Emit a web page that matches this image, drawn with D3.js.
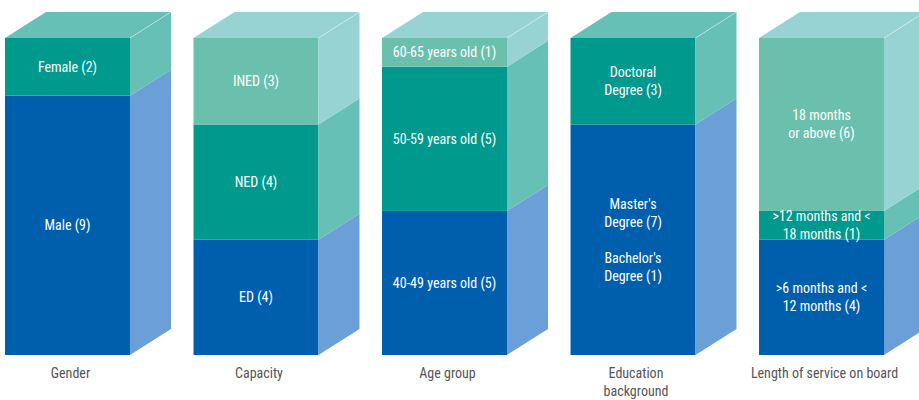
<!DOCTYPE html>
<html>
<head>
<meta charset="utf-8">
<script src="https://cdn.jsdelivr.net/npm/d3@7"></script>
<style>
  html, body { margin: 0; padding: 0; background: #ffffff; }
  svg { display: block; }
  text { font-family: "Liberation Sans Narrow", "Roboto Condensed", "Liberation Sans", sans-serif; }
</style>
</head>
<body>
<svg id="chart" width="919" height="400"></svg>
<script>
// Board composition: one stacked 3D column per dimension, each totalling 11 directors.
const categories = ["Gender", "Capacity", "Age group", "Education background", "Length of service on board"];
const categoryLines = [["Gender"], ["Capacity"], ["Age group"], ["Education", "background"], ["Length of service on board"]];

// Segment counts per column, bottom to top.
const genderCounts    = [9, 2];
const capacityCounts  = [4, 4, 3];
const ageCounts       = [5, 5, 1];
const educationCounts = [7 + 1, 3];          // Master's + Bachelor's, Doctoral
const serviceCounts   = [4, 1, 6];

// Segment labels (lines), bottom to top.
const genderLabels    = [["Male (9)"], ["Female (2)"]];
const capacityLabels  = [["ED (4)"], ["NED (4)"], ["INED (3)"]];
const ageLabels       = [["40-49 years old (5)"], ["50-59 years old (5)"], ["60-65 years old (1)"]];
const educationLabels = [["Master's", "Degree (7)", "", "Bachelor's", "Degree (1)"], ["Doctoral", "Degree (3)"]];
const serviceLabels   = [[">6 months and <", "12 months (4)"], [">12 months and <", "18 months (1)"], ["18 months", "or above (6)"]];

const allCounts = [genderCounts, capacityCounts, ageCounts, educationCounts, serviceCounts];
const allLabels = [genderLabels, capacityLabels, ageLabels, educationLabels, serviceLabels];

// Shading by stack level: front face, side face
const frontColors = ["#005fad", "#00998d", "#6bc0ad"];
const sideColors  = ["#6a9fd8", "#66c0b5", "#98d3d3"];

const svg = d3.select("#chart");
const depthX = 41, depthY = 26;

const x = d3.scaleBand().domain(categories).range([5, 884]).paddingInner(0.337).paddingOuter(0);
const total = d3.max(allCounts, c => d3.sum(c));
const y = d3.scaleLinear().domain([0, total]).range([355, 38]);

const lineH = 18;

categories.forEach((cat, ci) => {
  const counts = allCounts[ci];
  const labels = allLabels[ci];
  const x0 = x(cat), w = x.bandwidth();
  const g = svg.append("g");

  // cumulative stacking
  const segs = [];
  let acc = 0;
  counts.forEach((v, i) => { segs.push({ i, lo: acc, hi: acc + v, labels: labels[i] }); acc += v; });

  segs.forEach(s => {
    const yTop = y(s.hi), yBot = y(s.lo);
    // front face
    g.append("rect")
      .attr("x", x0).attr("y", yTop)
      .attr("width", w).attr("height", yBot - yTop)
      .attr("fill", frontColors[s.i]);
    // side face
    g.append("polygon")
      .attr("points", [
        [x0 + w, yTop], [x0 + w + depthX, yTop - depthY],
        [x0 + w + depthX, yBot - depthY], [x0 + w, yBot]
      ].map(p => p.join(",")).join(" "))
      .attr("fill", sideColors[s.i]);
  });

  // top face takes the side shade of the uppermost segment
  const topSeg = segs[segs.length - 1];
  const yT = y(topSeg.hi);
  g.append("polygon")
    .attr("points", [
      [x0, yT], [x0 + depthX, yT - depthY],
      [x0 + w + depthX, yT - depthY], [x0 + w, yT]
    ].map(p => p.join(",")).join(" "))
    .attr("fill", sideColors[topSeg.i]);
  // faint highlight along the top-right edge
  g.append("line")
    .attr("x1", x0 + w).attr("y1", yT)
    .attr("x2", x0 + w + depthX).attr("y2", yT - depthY)
    .attr("stroke", "#ffffff").attr("stroke-opacity", 0.5).attr("stroke-width", 0.8);

  // segment labels
  segs.forEach(s => {
    const cy = (y(s.hi) + y(s.lo)) / 2;
    const n = s.labels.length;
    const t = g.append("text")
      .attr("x", x0 + w / 2)
      .attr("text-anchor", "middle")
      .attr("fill", "#ffffff")
      .attr("font-size", 14);
    s.labels.forEach((ln, li) => {
      t.append("tspan")
        .attr("x", x0 + w / 2)
        .attr("y", cy + (li - (n - 1) / 2) * lineH + 5)
        .text(ln);
    });
  });

  // category label beneath the column
  const ct = g.append("text")
    .attr("text-anchor", "middle")
    .attr("fill", "#555555")
    .attr("font-size", 14);
  categoryLines[ci].forEach((ln, li) => {
    ct.append("tspan")
      .attr("x", x0 + w / 2 + 3)
      .attr("y", 378 + li * 18)
      .text(ln);
  });
});
</script>
</body>
</html>
